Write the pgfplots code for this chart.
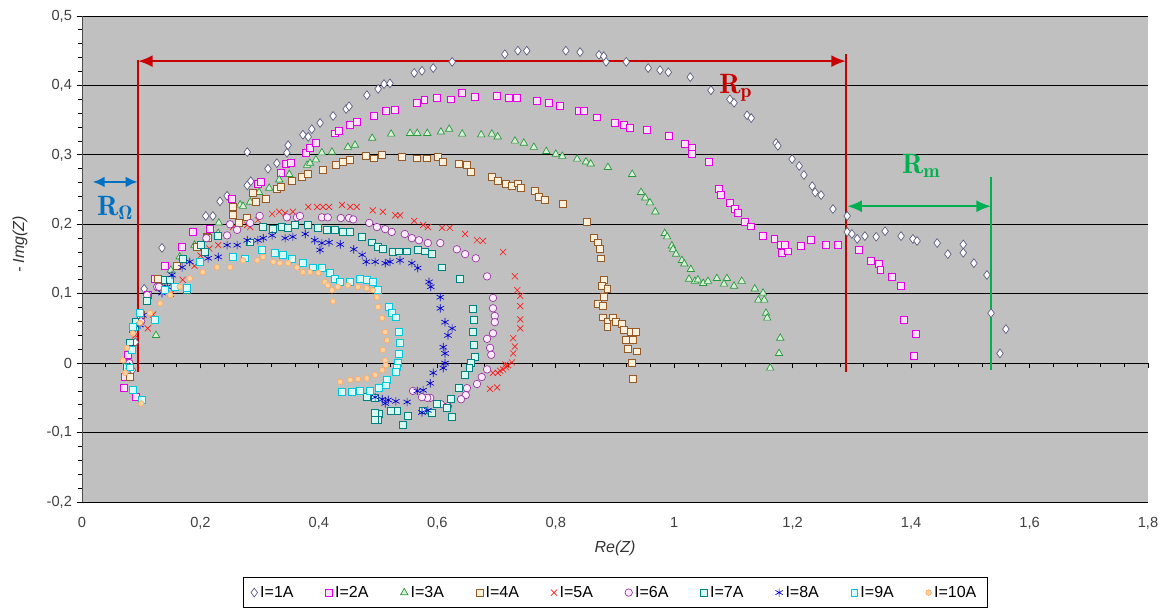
\documentclass[border=0pt]{standalone}
\usepackage{fontspec}
\setmainfont{Liberation Sans}
\usepackage{pgfplots}
\pgfplotsset{compat=1.18}
\usetikzlibrary{arrows.meta}
\definecolor{plotgray}{RGB}{192,192,192}
\definecolor{cA}{RGB}{90,90,130}
\definecolor{cB}{RGB}{230,0,230}\definecolor{fB}{RGB}{255,225,255}
\definecolor{cC}{RGB}{40,150,60}\definecolor{fC}{RGB}{215,240,215}
\definecolor{cD}{RGB}{150,90,40}\definecolor{fD}{RGB}{255,240,220}
\definecolor{cE}{RGB}{255,30,30}
\definecolor{cF}{RGB}{150,50,160}\definecolor{fF}{RGB}{255,235,255}
\definecolor{cG}{RGB}{0,128,128}\definecolor{fG}{RGB}{215,250,240}
\definecolor{cH}{RGB}{0,0,210}
\definecolor{cI}{RGB}{0,200,220}\definecolor{fI}{RGB}{215,255,255}
\definecolor{cJ}{RGB}{255,170,100}\definecolor{fJ}{RGB}{255,210,160}
\definecolor{annred}{RGB}{200,0,0}
\definecolor{annblue}{RGB}{0,112,192}
\definecolor{anngreen}{RGB}{0,176,80}
\newcommand\lmr{\fontfamily{lmr}\selectfont}
\begin{document}
\begin{tikzpicture}
\useasboundingbox (-61.5pt,-80.25pt) rectangle (808.5pt,376.5pt);
\begin{axis}[
 scale only axis, width=799.5pt, height=364.5pt,
 xmin=0, xmax=1.8, ymin=-0.2, ymax=0.5,
 axis x line=middle, axis y line=left,
 hide obscured x ticks=false,
 x axis line style={-, black, line width=0.7pt},
 y axis line style={-, black!70, line width=0.7pt},
 axis background/.style={fill=plotgray},
 ymajorgrids, grid style={black, line width=0.6pt},
 xtick={0,0.2,0.4,0.6,0.8,1,1.2,1.4,1.6,1.8},
 ytick={-0.2,-0.1,0,0.1,0.2,0.3,0.4,0.5},
 minor x tick num=4, minor y tick num=4,
 tick align=outside, major tick length=4pt, minor tick length=3pt,
 tick style={black, line width=0.6pt},
 /pgf/number format/use comma,
 /pgf/number format/assume math mode=true,
 ticklabel style={font=\fontsize{11}{13}\selectfont, text=black!75},
 xticklabel style={yshift=-108pt},
 every axis x label/.style={at={(rel axis cs:0.5,0)}, anchor=center, yshift=-35pt, font=\fontsize{12}{14}\selectfont\itshape, text=black!80},
 xlabel={Re(Z)},
 every axis y label/.style={at={(rel axis cs:0,0.53)}, xshift=-46.5pt, rotate=90, anchor=center, font=\fontsize{12}{14}\selectfont\itshape, text=black!80},
 ylabel={- Img(Z)},
 legend style={at={(0.5,-0.1543)}, anchor=north, legend columns=10, draw=black, line width=0.5pt,
   font=\fontsize{12}{14}\selectfont, inner xsep=6pt, inner ysep=4.5pt,
   /tikz/every even column/.append style={column sep=22pt}},
 legend image code/.code={\draw[mark repeat=2,mark phase=2,#1] plot coordinates {(0cm,0cm) (0.15cm,0cm) (0.3cm,0cm)};},
 every axis plot/.append style={only marks, line width=0.5pt},
]
% I=1A
\addplot[mark=diamond*, mark size=3.3pt, draw=cA, fill=white] coordinates {
(0.085,-0.01) (0.090,0.03) (0.100,0.07) (0.105,0.107) (0.135,0.166) (0.209,0.212) (0.221,0.212) (0.233,0.233) (0.245,0.241)
(0.279,0.304) (0.279,0.256) (0.285,0.262) (0.314,0.280) (0.329,0.288) (0.346,0.303) (0.348,0.314) (0.373,0.329) (0.382,0.326)
(0.388,0.337) (0.402,0.346) (0.424,0.356) (0.446,0.366) (0.451,0.370) (0.481,0.386) (0.500,0.395) (0.510,0.402) (0.520,0.403)
(0.561,0.418) (0.574,0.421) (0.593,0.425) (0.625,0.434) (0.714,0.445) (0.736,0.450) (0.751,0.450) (0.817,0.450) (0.841,0.448)
(0.873,0.444) (0.881,0.442) (0.885,0.434) (0.919,0.434) (0.956,0.425) (0.976,0.422) (0.990,0.419) (1.027,0.412) (1.062,0.393)
(1.094,0.380) (1.101,0.375) (1.123,0.357) (1.130,0.353) (1.172,0.317) (1.175,0.313) (1.199,0.294) (1.211,0.284) (1.219,0.271)
(1.233,0.255) (1.238,0.246) (1.248,0.242) (1.268,0.222) (1.292,0.212) (1.292,0.189) (1.300,0.186) (1.309,0.179) (1.322,0.183)
(1.341,0.182) (1.356,0.190) (1.383,0.183) (1.403,0.179) (1.410,0.176) (1.444,0.173) (1.462,0.157) (1.488,0.171) (1.488,0.159)
(1.506,0.144) (1.528,0.127) (1.535,0.072) (1.560,0.049) (1.550,0.014)};
\addlegendentry{I=1A}
% I=2A
\addplot[mark=square*, mark size=2.6pt, draw=cB, fill=fB] coordinates {
(0.070,-0.035) (0.091,-0.049) (0.072,-0.020) (0.075,0.0) (0.078,0.012) (0.080,0.030) (0.085,0.05) (0.111,0.098) (0.123,0.122)
(0.140,0.140) (0.169,0.167) (0.187,0.189) (0.216,0.193) (0.253,0.236)
(0.297,0.258) (0.302,0.261) (0.336,0.274) (0.344,0.287) (0.353,0.288) (0.378,0.303) (0.385,0.310) (0.395,0.317) (0.427,0.331)
(0.434,0.334) (0.453,0.343) (0.464,0.347) (0.493,0.356) (0.513,0.363) (0.529,0.365) (0.566,0.375) (0.578,0.379) (0.599,0.382)
(0.623,0.380) (0.642,0.389) (0.664,0.383) (0.701,0.385) (0.721,0.382) (0.735,0.382) (0.768,0.378) (0.789,0.375) (0.807,0.370)
(0.839,0.363) (0.848,0.363) (0.870,0.354) (0.900,0.346) (0.915,0.343) (0.925,0.339) (0.954,0.336) (0.991,0.327) (1.018,0.316)
(1.030,0.310) (1.030,0.301) (1.059,0.290) (1.076,0.251) (1.079,0.242) (1.094,0.231) (1.103,0.222) (1.108,0.216) (1.120,0.203)
(1.130,0.197) (1.150,0.183) (1.169,0.179) (1.180,0.170) (1.187,0.170) (1.182,0.159) (1.192,0.161) (1.214,0.169) (1.231,0.177)
(1.256,0.170) (1.277,0.170) (1.312,0.163) (1.332,0.148) (1.346,0.143) (1.348,0.134) (1.368,0.124) (1.383,0.112) (1.388,0.063)
(1.408,0.042) (1.405,0.010)};
\addlegendentry{I=2A}
% I=3A
\addplot[mark=triangle*, mark size=3.2pt, draw=cC, fill=fC] coordinates {
(0.080,0.0) (0.090,0.05) (0.110,0.09) (0.125,0.040) (0.135,0.115) (0.150,0.134) (0.165,0.153) (0.190,0.170) (0.210,0.180)
(0.230,0.187) (0.231,0.202) (0.267,0.228)
(0.272,0.226) (0.284,0.232) (0.299,0.246) (0.316,0.252) (0.333,0.264) (0.350,0.272) (0.380,0.285) (0.385,0.288) (0.395,0.293)
(0.405,0.303) (0.422,0.304) (0.449,0.311) (0.461,0.314) (0.490,0.324) (0.522,0.330) (0.554,0.331) (0.566,0.331) (0.583,0.331)
(0.606,0.333) (0.620,0.337) (0.642,0.330) (0.674,0.329) (0.692,0.330) (0.702,0.326) (0.731,0.320) (0.746,0.317) (0.763,0.311)
(0.784,0.305) (0.800,0.301) (0.811,0.298) (0.836,0.294) (0.851,0.290) (0.859,0.287) (0.888,0.282) (0.929,0.272) (0.944,0.246)
(0.951,0.238) (0.959,0.231) (0.968,0.218) (0.984,0.187) (0.988,0.182) (0.996,0.169) (0.998,0.164) (1.003,0.157) (1.013,0.148)
(1.017,0.143) (1.028,0.135) (1.025,0.121) (1.035,0.118) (1.040,0.120) (1.049,0.115) (1.057,0.118) (1.072,0.122) (1.089,0.122)
(1.084,0.114) (1.101,0.111) (1.114,0.118) (1.136,0.107) (1.150,0.101) (1.142,0.091) (1.152,0.091) (1.155,0.072) (1.157,0.065)
(1.179,0.036) (1.177,0.014) (1.162,-0.007)};
\addlegendentry{I=3A}
% I=4A
\addplot[mark=square*, mark size=2.6pt, draw=cD, fill=fD] coordinates {
(0.080,-0.02) (0.085,0.02) (0.100,0.07) (0.128,0.122) (0.130,0.11) (0.160,0.14) (0.194,0.167) (0.211,0.182) (0.213,0.180)
(0.255,0.213) (0.255,0.225) (0.265,0.202)
(0.279,0.210) (0.289,0.245) (0.294,0.233) (0.311,0.236) (0.329,0.251) (0.336,0.254) (0.355,0.262) (0.371,0.269) (0.382,0.272)
(0.407,0.278) (0.429,0.285) (0.441,0.290) (0.453,0.293) (0.480,0.298) (0.493,0.295) (0.507,0.300) (0.540,0.297) (0.566,0.295)
(0.583,0.295) (0.601,0.297) (0.610,0.290) (0.637,0.287) (0.650,0.285) (0.657,0.275) (0.692,0.268) (0.702,0.262) (0.716,0.258)
(0.726,0.256) (0.736,0.259) (0.741,0.252) (0.765,0.248) (0.772,0.239) (0.782,0.235) (0.812,0.229) (0.853,0.203) (0.865,0.180)
(0.871,0.174) (0.875,0.164) (0.876,0.151) (0.881,0.120) (0.878,0.112) (0.887,0.107) (0.881,0.095) (0.871,0.085) (0.880,0.082)
(0.880,0.066) (0.887,0.059) (0.887,0.052) (0.897,0.066) (0.902,0.059) (0.912,0.056) (0.915,0.048) (0.927,0.045) (0.935,0.045)
(0.919,0.033) (0.930,0.033) (0.922,0.020) (0.937,0.017) (0.929,0.001) (0.930,-0.022)};
\addlegendentry{I=4A}
% I=5A
\addplot[mark=x, mark size=3.2pt, draw=cE] coordinates {
(0.080,0.0) (0.090,0.04) (0.111,0.050) (0.120,0.070) (0.150,0.10) (0.170,0.120) (0.190,0.14) (0.200,0.155) (0.215,0.165)
(0.230,0.17) (0.255,0.196) (0.279,0.199) (0.284,0.196)
(0.297,0.206) (0.321,0.215) (0.333,0.218) (0.343,0.216) (0.356,0.218) (0.382,0.225) (0.397,0.225) (0.407,0.225) (0.417,0.225)
(0.439,0.228) (0.453,0.225) (0.464,0.225) (0.491,0.220) (0.508,0.218) (0.529,0.213) (0.537,0.213) (0.561,0.205) (0.576,0.199)
(0.584,0.196) (0.608,0.195) (0.621,0.195) (0.647,0.186) (0.667,0.177) (0.677,0.176) (0.711,0.160) (0.731,0.125) (0.735,0.105)
(0.740,0.097) (0.740,0.082) (0.740,0.063) (0.740,0.050) (0.728,0.036) (0.731,0.024) (0.728,0.014) (0.726,0.001) (0.719,-0.003)
(0.716,-0.006) (0.711,-0.009) (0.706,-0.011) (0.702,-0.014) (0.694,-0.014) (0.715,-0.002) (0.701,-0.035) (0.689,-0.037)};
\addlegendentry{I=5A}
% I=6A
\addplot[mark=*, mark size=2.8pt, draw=cF, fill=fF] coordinates {
(0.080,0.0) (0.100,0.06) (0.110,0.098) (0.127,0.110) (0.130,0.11) (0.170,0.15) (0.210,0.18) (0.245,0.184) (0.250,0.20)
(0.262,0.192) (0.284,0.202) (0.300,0.212) (0.346,0.210) (0.363,0.210)
(0.368,0.212) (0.405,0.210) (0.415,0.210) (0.437,0.209) (0.451,0.209) (0.458,0.207) (0.485,0.202) (0.498,0.196) (0.512,0.193)
(0.523,0.189) (0.545,0.186) (0.557,0.180) (0.569,0.177) (0.584,0.173) (0.605,0.173) (0.633,0.164) (0.647,0.157) (0.665,0.151)
(0.684,0.125) (0.694,0.094) (0.694,0.079) (0.697,0.068) (0.697,0.059) (0.694,0.043) (0.684,0.035) (0.689,0.022) (0.691,0.012)
(0.684,-0.009) (0.675,-0.020) (0.667,-0.030) (0.650,-0.036) (0.648,-0.046) (0.640,-0.052) (0.618,-0.062) (0.606,-0.059)
(0.588,-0.050) (0.583,-0.050) (0.574,-0.049) (0.559,-0.040)};
\addlegendentry{I=6A}
% I=7A
\addplot[mark=square*, mark size=2.6pt, draw=cG, fill=fG] coordinates {
(0.075,-0.005) (0.080,0.03) (0.090,0.052) (0.090,0.06) (0.110,0.09) (0.140,0.12) (0.149,0.120) (0.170,0.15) (0.177,0.105)
(0.200,0.17) (0.208,0.160) (0.230,0.183) (0.284,0.174) (0.306,0.196)
(0.323,0.193) (0.338,0.196) (0.348,0.195) (0.360,0.199) (0.382,0.199) (0.399,0.195) (0.414,0.192) (0.427,0.192) (0.441,0.189)
(0.453,0.189) (0.473,0.182) (0.490,0.174) (0.500,0.167) (0.508,0.164) (0.525,0.160) (0.535,0.161) (0.549,0.161) (0.567,0.163)
(0.579,0.161) (0.591,0.157) (0.608,0.138) (0.638,0.121) (0.660,0.078) (0.662,0.063) (0.660,0.045) (0.662,0.027) (0.664,0.009)
(0.657,0.000) (0.654,-0.007) (0.647,-0.017) (0.637,-0.036) (0.623,-0.052) (0.616,-0.065) (0.625,-0.078) (0.599,-0.058)
(0.591,-0.071) (0.576,-0.068) (0.550,-0.076) (0.542,-0.089) (0.532,-0.069) (0.522,-0.069) (0.502,-0.073) (0.495,-0.071)
(0.500,-0.082) (0.495,-0.081) (0.481,-0.048) (0.495,-0.050)};
\addlegendentry{I=7A}
% I=8A
\addplot[mark=asterisk, mark size=3.2pt, draw=cH] coordinates {
(0.080,-0.005) (0.085,0.02) (0.098,0.055) (0.103,0.069) (0.135,0.101) (0.144,0.110) (0.152,0.127) (0.169,0.138) (0.182,0.146)
(0.213,0.151) (0.230,0.153) (0.245,0.170) (0.262,0.170) (0.279,0.177) (0.297,0.177) (0.306,0.180) (0.321,0.184) (0.343,0.180)
(0.356,0.182) (0.377,0.186) (0.393,0.177) (0.405,0.173) (0.417,0.174) (0.402,0.163) (0.436,0.171) (0.459,0.164) (0.473,0.156)
(0.480,0.146) (0.495,0.146) (0.512,0.144) (0.520,0.146) (0.537,0.148) (0.557,0.144) (0.567,0.137) (0.586,0.117) (0.589,0.110)
(0.605,0.095) (0.605,0.079) (0.613,0.059) (0.625,0.050) (0.618,0.040) (0.610,0.023) (0.613,0.014) (0.613,0.000) (0.610,-0.007)
(0.593,-0.014) (0.588,-0.029) (0.576,-0.039) (0.566,-0.040) (0.584,-0.068) (0.574,-0.071) (0.549,-0.056) (0.530,-0.055)
(0.517,-0.053) (0.512,-0.058) (0.507,-0.052) (0.495,-0.049)};
\addlegendentry{I=8A}
% I=9A
\addplot[mark=square*, mark size=2.6pt, draw=cI, fill=fI] coordinates {
(0.101,-0.053) (0.086,-0.039) (0.081,-0.006) (0.084,0.019) (0.086,0.052) (0.098,0.072) (0.123,0.062) (0.140,0.105) (0.157,0.110)
(0.177,0.108) (0.199,0.146) (0.255,0.153) (0.275,0.151) (0.304,0.163) (0.326,0.159) (0.339,0.156) (0.355,0.150) (0.373,0.144)
(0.390,0.138) (0.405,0.137) (0.419,0.130) (0.427,0.122) (0.436,0.117) (0.453,0.117) (0.469,0.122) (0.481,0.120) (0.491,0.117)
(0.500,0.105) (0.518,0.081) (0.523,0.072) (0.530,0.066) (0.535,0.045) (0.537,0.029) (0.535,0.014) (0.534,0.001) (0.532,-0.006)
(0.530,-0.013) (0.515,-0.024) (0.513,-0.032) (0.502,-0.035) (0.486,-0.040) (0.469,-0.040) (0.456,-0.042) (0.439,-0.042)};
\addlegendentry{I=9A}
% I=10A
\addplot[mark=*, mark size=2.1pt, draw=cJ, fill=fJ] coordinates {
(0.100,-0.058) (0.073,-0.014) (0.069,0.004) (0.076,0.022) (0.086,0.043) (0.098,0.058) (0.115,0.072) (0.132,0.086) (0.149,0.098)
(0.165,0.110) (0.182,0.122) (0.204,0.131) (0.228,0.138) (0.250,0.138) (0.272,0.148) (0.296,0.148) (0.306,0.153) (0.323,0.146)
(0.334,0.144) (0.348,0.144) (0.363,0.138) (0.373,0.131) (0.385,0.131) (0.399,0.130) (0.410,0.117) (0.415,0.112) (0.422,0.105)
(0.424,0.089) (0.432,0.110) (0.449,0.112) (0.466,0.110) (0.481,0.108) (0.491,0.105) (0.498,0.095) (0.500,0.081) (0.507,0.065)
(0.512,0.045) (0.515,0.033) (0.508,0.019) (0.512,0.004) (0.513,-0.003) (0.507,-0.010) (0.495,-0.017) (0.481,-0.022)
(0.466,-0.023) (0.453,-0.024) (0.436,-0.027)};
\addlegendentry{I=10A}
% annotations
\draw[annred, line width=1.6pt, {Latex[length=11pt,width=9pt]}-{Latex[length=11pt,width=9pt]}] (axis cs:0.0946,0.435) -- (axis cs:1.290,0.435);
\draw[annred, line width=1.6pt] (axis cs:0.0946,0.437) -- (axis cs:0.0946,-0.013);
\draw[annred, line width=1.6pt] (axis cs:1.290,0.445) -- (axis cs:1.290,-0.013);
\node[annred, font=\fontsize{21}{23}\selectfont\lmr\bfseries] at (axis cs:1.104,0.396) {R\textsubscript{p}};
\draw[annblue, line width=1.6pt, {Latex[length=9pt,width=8pt]}-{Latex[length=9pt,width=8pt]}] (axis cs:0.018,0.261) -- (axis cs:0.094,0.261);
\node[annblue, font=\fontsize{21}{23}\selectfont\lmr\bfseries] at (axis cs:0.056,0.223) {R\textsubscript{Ω}};
\draw[anngreen, line width=1.6pt, {Latex[length=11pt,width=9pt]}-{Latex[length=11pt,width=9pt]}] (axis cs:1.292,0.226) -- (axis cs:1.535,0.226);
\draw[anngreen, line width=1.2pt] (axis cs:1.535,0.268) -- (axis cs:1.535,-0.010);
\node[anngreen, font=\fontsize{21}{23}\selectfont\lmr\bfseries] at (axis cs:1.417,0.284) {R\textsubscript{m}};
\end{axis}
\end{tikzpicture}
\end{document}
